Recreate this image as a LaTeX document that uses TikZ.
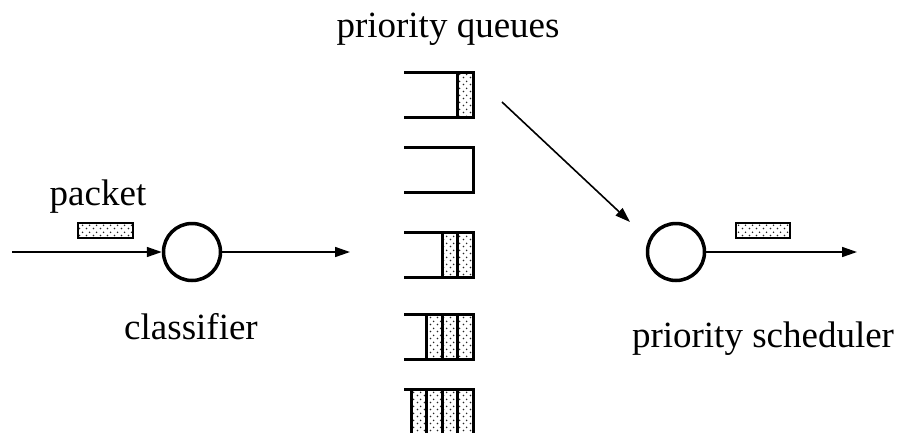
\documentclass[tikz,border=0pt]{standalone}
\usepackage{fontspec}
\setmainfont{Liberation Serif}
\usetikzlibrary{arrows.meta,patterns}

% sparse staggered dots used to shade packets
\pgfdeclarepatternformonly{sparsedots}{\pgfpointorigin}{\pgfpoint{6.5pt}{6.5pt}}{\pgfpoint{6.5pt}{6.5pt}}{%
  \pgfpathcircle{\pgfpoint{1.6pt}{1.6pt}}{0.9pt}%
  \pgfpathcircle{\pgfpoint{4.85pt}{4.85pt}}{0.9pt}%
  \pgfusepath{fill}%
}

\tikzset{
  lbl/.style={font=\fontsize{37}{40}\selectfont, anchor=base, inner sep=0pt},
  proc/.style={circle, draw, line width=3.5pt, minimum size=57pt, inner sep=0pt},
  arr/.style={line width=1.6pt, -{Triangle[length=15pt,width=10pt]}},
  pkt/.style={draw, line width=1.4pt, pattern=sparsedots, pattern color=black!85},
  cell/.style={draw, line width=3pt, pattern=sparsedots, pattern color=black!85},
  qline/.style={line width=3pt},
}

\begin{document}
\begin{tikzpicture}[x=1pt,y=-1pt]
\useasboundingbox (0,0) rectangle (904,432);

% labels
\node[lbl] (tq)  at (448,37)  {priority queues};
\node[lbl] (tp)  at (98,205)  {packet};
\node[lbl] (tc)  at (191,339) {classifier};
\node[lbl] (ts)  at (763,347) {priority scheduler};

% classifier and scheduler
\node[proc] (cls) at (192,252) {};
\node[proc] (sch) at (676,252) {};

% packets in transit
\path[pkt] (78,223) rectangle (133,238);
\path[pkt] (736,223) rectangle (790,238);

% flow arrows
\coordinate (src) at (12,252);
\coordinate (clsout) at (350,252);
\coordinate (qfrom) at (502,102);
\coordinate (qto) at (630,222);
\coordinate (dst) at (857,252);
\draw[arr] (src) -- (cls.west);
\draw[arr] (cls.east) -- (clsout);
\draw[arr] (qfrom) -- (qto);
\draw[arr] (sch.east) -- (dst);

% priority queues: top edge / number of queued packets
\foreach \t/\n in {72/1, 147/0, 232/2, 314/3, 389/4}{
  \foreach \k in {1,...,\n}{
    \ifnum\n>0
      \path[cell] ({473-15.5*\k},\t) rectangle ({473-15.5*(\k-1)},\t+45);
    \fi
  }
  \draw[qline] (404,\t) -- (473,\t) -- (473,\t+45) -- (404,\t+45);
}
\end{tikzpicture}
\end{document}
